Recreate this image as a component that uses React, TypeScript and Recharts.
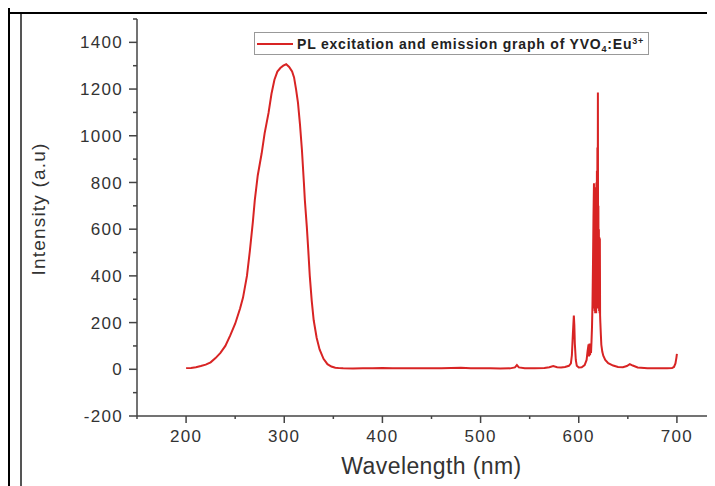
import React from 'react';
import { LineChart, Line, XAxis, YAxis, Legend } from 'recharts';

const wavelength = [
  200, 205, 210, 215, 220, 225, 230, 235, 240, 245, 250, 255, 258, 262, 265, 268, 270, 273, 277, 280,
  284, 287, 290, 293, 296, 299, 302, 305, 308, 310, 312, 314, 316, 318, 320, 321, 323, 324.5, 326, 328,
  330, 333, 336, 340, 344, 348, 352, 356, 360, 370, 380, 390, 400, 410, 420, 430, 440, 450, 460, 470,
  480, 490, 500, 510, 520, 530, 535, 537, 539, 545, 555, 565, 570, 574, 578, 582, 586, 590, 592, 593,
  594, 595, 595.5, 596, 597, 598, 600, 603, 606, 608, 609, 610, 610.5, 611, 611.5, 612, 612.5, 613, 613.5, 614,
  614.5, 615, 615.5, 615.75, 616, 616.25, 616.5, 616.75, 617, 617.25, 617.5, 617.75, 618, 618.25, 618.5, 618.75,
  619, 619.25, 619.5, 619.75, 620, 620.25, 620.5, 620.75, 621, 621.25, 621.5, 621.75, 622, 622.5, 623, 624, 625,
  627, 630, 635, 640, 645, 649, 652, 655, 660, 670, 680, 690, 695, 697, 698.5, 699.5, 700,
];
const intensity = [
  5, 6, 9, 14, 20, 30, 48, 70, 100, 145, 195, 260, 307, 400, 508, 630, 724, 830, 925, 1010,
  1098, 1180, 1240, 1275, 1290, 1300, 1306, 1295, 1275, 1250, 1200, 1141, 1050, 940, 800, 724, 610, 508, 400, 293,
  210, 135, 85, 45, 22, 12, 7, 5, 4, 3, 4, 5, 6, 4, 5, 4, 5, 4, 5, 6,
  7, 5, 4, 4, 3, 4, 8, 18, 8, 4, 5, 6, 9, 14, 9, 8, 10, 15, 25, 60,
  150, 230, 190, 110, 40, 15, 8, 9, 18, 40, 78, 107, 55, 110, 60, 90, 70, 120, 180, 280,
  450, 650, 797, 260, 780, 250, 770, 240, 760, 250, 770, 240, 800, 260, 850, 280,
  950, 300, 1185, 320, 700, 260, 600, 250, 565, 240, 560, 230, 200, 150, 105, 75, 58,
  40, 26, 16, 10, 9, 14, 22, 16, 8, 5, 4, 4, 5, 10, 25, 50, 66,
];

const xTicks = [150, 200, 250, 300, 350, 400, 450, 500, 550, 600, 650, 700, 750];
const yTicks = [-200, -100, 0, 100, 200, 300, 400, 500, 600, 700, 800, 900, 1000, 1100, 1200, 1300, 1400, 1500];
const seriesName = 'PL excitation and emission graph of YVO';
const xTitle = 'Wavelength (nm)';
const yTitle = 'Intensity (a.u)';

const data = wavelength.map((w, i) => ({ wavelength: w, intensity: intensity[i] }));

const FONT = '"Liberation Sans", Arial, Helvetica, sans-serif';
const AXIS = '#444';
const TEXT = '#333';
const RED = '#d82424';

const XTick = (props: any) => {
  const { x, y, payload } = props;
  const v = payload.value;
  const major = v % 100 === 0;
  return (
    <g>
      <line x1={x} x2={x} y1={y} y2={y + (major ? 7 : 3)} stroke={AXIS} strokeWidth={1.5} />
      {major && (
        <text x={x} y={y + 26} textAnchor="middle" fontFamily={FONT} fontSize={17} letterSpacing={1.3} fill={TEXT}>
          {v}
        </text>
      )}
    </g>
  );
};

const YTick = (props: any) => {
  const { x, y, payload } = props;
  const v = payload.value;
  const major = v % 200 === 0;
  return (
    <g>
      <line x1={x} x2={x - (major ? 8 : 4)} y1={y} y2={y} stroke={AXIS} strokeWidth={1.5} />
      {major && (
        <text x={x - 14} y={y} dy="0.36em" textAnchor="end" fontFamily={FONT} fontSize={17} letterSpacing={1.3} fill={TEXT}>
          {v}
        </text>
      )}
    </g>
  );
};

const XLabel = (props: any) => {
  const vb = props.viewBox || { x: 129, y: 408, width: 589 };
  return (
    <text x={vb.x + vb.width / 2} y={vb.y + 58} textAnchor="middle" fontFamily={FONT} fontSize={23} letterSpacing={0.4} fill={TEXT}>
      {xTitle}
    </text>
  );
};

const YLabel = () => (
  <text
    x={37}
    y={201}
    transform="rotate(-90, 37, 201)"
    textAnchor="middle"
    fontFamily={FONT}
    fontSize={19}
    letterSpacing={1.2}
    fill={TEXT}
  >
    {yTitle}
  </text>
);

const LegendContent = () => (
  <div
    style={{
      width: 395,
      height: 23,
      boxSizing: 'border-box',
      border: '1px solid #999',
      display: 'flex',
      alignItems: 'center',
      fontFamily: FONT,
      fontWeight: 'bold',
      fontSize: 14,
      color: '#222',
      letterSpacing: 0.8,
      whiteSpace: 'nowrap',
      background: '#fff',
      lineHeight: '14px',
    }}
  >
    <span style={{ display: 'inline-block', width: 36, height: 2, background: RED, marginLeft: 2, marginRight: 4 }} />
    <span>
      {seriesName}
      <sub style={{ fontSize: 9, verticalAlign: '-3px', lineHeight: 0 }}>4</sub>:Eu
      <sup style={{ fontSize: 9, verticalAlign: '5px', lineHeight: 0 }}>3+</sup>
    </span>
  </div>
);

export default function App() {
  return (
    <div style={{ position: 'relative', width: 707, height: 478, overflow: 'hidden', background: '#fff' }}>
      <div style={{ position: 'absolute', left: 0, top: 0, width: 2, height: 478, background: '#000' }} />
      <div style={{ position: 'absolute', left: 0, top: 4, width: 707, height: 2, background: '#000' }} />
      <div style={{ position: 'absolute', left: 12, top: 6, width: 2, height: 472, background: '#555' }} />
      <div style={{ position: 'absolute', left: 702, top: 6, width: 1, height: 472, background: '#eee' }} />
      <div style={{ position: 'absolute', left: 0, top: 0 }}>
        <LineChart width={760} height={478} data={data} margin={{ top: 11, right: 42, bottom: 10, left: 0 }}>
          <XAxis
            dataKey="wavelength"
            type="number"
            domain={[150, 750]}
            ticks={xTicks}
            interval={0}
            tickSize={0}
            tickMargin={0}
            tickLine={false}
            tick={<XTick />}
            axisLine={{ stroke: AXIS, strokeWidth: 1.5 }}
            height={60}
            label={<XLabel />}
            allowDataOverflow
          />
          <YAxis
            type="number"
            domain={[-200, 1500]}
            ticks={yTicks}
            interval={0}
            tickSize={0}
            tickMargin={0}
            tickLine={false}
            tick={<YTick />}
            axisLine={{ stroke: AXIS, strokeWidth: 1.5 }}
            width={129}
            label={<YLabel />}
            allowDataOverflow
          />
          <Legend
            layout="horizontal"
            verticalAlign="middle"
            align="center"
            content={<LegendContent />}
            wrapperStyle={{ position: 'absolute', left: 246, top: 24, width: 395, height: 23 }}
          />
          <Line
            type="linear"
            dataKey="intensity"
            stroke={RED}
            strokeWidth={2}
            dot={false}
            isAnimationActive={false}
            name={seriesName}
          />
        </LineChart>
      </div>
    </div>
  );
}
